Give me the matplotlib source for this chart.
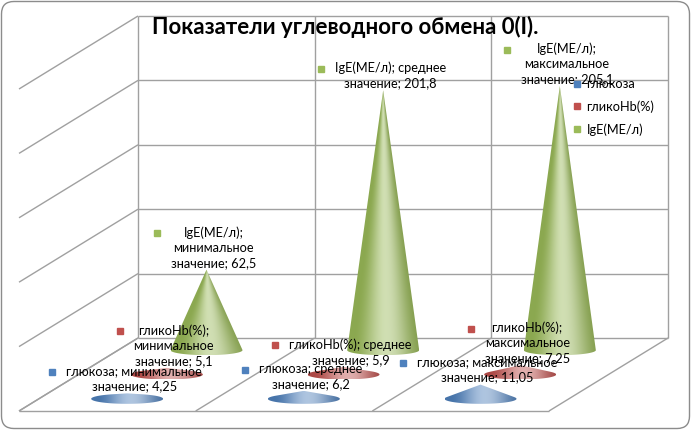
import matplotlib
matplotlib.use("agg")
import matplotlib.pyplot as plt
import matplotlib.transforms as mtransforms
import numpy as np
from matplotlib.colors import to_rgb
from matplotlib.lines import Line2D
from matplotlib.patches import FancyBboxPatch, Polygon

# Chart data
title = "Показатели углеводного обмена 0(I)."
categories = ["минимальное", "среднее", "максимальное"]
category_suffix = "значение"
series_names = ["глюкоза", "гликоHb(%)", "IgE(МЕ/л)"]
glucose = [4.25, 6.2, 11.05]
glyco_hb = [5.1, 5.9, 7.25]
ige = [62.5, 201.8, 205.1]
value_ticks = [0, 50, 100, 150, 200, 250]

series_values = [glucose, glyco_hb, ige]
series_colors = ["#4F81BD", "#C0504D", "#9BBB59"]

# Layout of the 3D box (pixels of a 691x430 picture)
W, H = 691, 430
wall_left, wall_right, wall_top, wall_bottom = 138, 668, 16, 338
depth_px = (-119, 73)          # shift from back wall to front edge
cone_rx_px, cone_ry_px = 36, 5
grid_color = "#a0a0a0"
font = ["Lato", "DejaVu Sans"]
label_size = 9.2

n_cat = len(categories)
vmax = value_ticks[-1]
px_cat = (wall_right - wall_left) / n_cat
px_val = (wall_bottom - wall_top) / vmax
dcat = depth_px[0] / px_cat
dval = -depth_px[1] / px_val
rx = cone_rx_px / px_cat
ry = cone_ry_px / px_val

fig = plt.figure(figsize=(W / 100, H / 100), dpi=100)
ax = fig.add_axes([0, 0, 1, 1])
ax.set_xlim(-wall_left / px_cat, n_cat + (W - wall_right) / px_cat)
ax.set_ylim(-(H - wall_bottom) / px_val, vmax + wall_top / px_val)
ax.set_autoscale_on(False)
ax.axis("off")


def proj(cat, depth, value):
    return cat + dcat * depth, value + dval * depth


def line(p, q):
    ax.plot([p[0], q[0]], [p[1], q[1]], color=grid_color, lw=1, zorder=1,
            solid_capstyle="butt")


# back wall, left wall and floor
for v in value_ticks:
    line((0, v), (n_cat, v))
    line((0, v), proj(0, 1, v))
for c in range(n_cat + 1):
    line((c, 0), (c, vmax))
    line((c, 0), proj(c, 1, 0))
line(proj(0, 1, 0), proj(n_cat, 1, 0))


def hull(points):
    pts = sorted(set(points))

    def cross(o, a, b):
        return (a[0] - o[0]) * (b[1] - o[1]) - (a[1] - o[1]) * (b[0] - o[0])

    lower, upper = [], []
    for p in pts:
        while len(lower) >= 2 and cross(lower[-2], lower[-1], p) <= 0:
            lower.pop()
        lower.append(p)
    for p in reversed(pts):
        while len(upper) >= 2 and cross(upper[-2], upper[-1], p) <= 0:
            upper.pop()
        upper.append(p)
    return lower[:-1] + upper[:-1]


def cone(cx, by, h, color, z):
    theta = np.linspace(0, 2 * np.pi, 160, endpoint=False)
    pts = [(cx + rx * np.cos(a), by + ry * np.sin(a)) for a in theta]
    pts.append((cx, by + h))
    outline = Polygon(hull(pts), closed=True, fc="none", ec="none",
                      transform=ax.transData)
    ax.add_patch(outline)

    top = by + max(h, ry)
    xs = np.linspace(cx - rx, cx + rx, 300)
    ys = np.linspace(by - ry, top, 300)
    X, Y = np.meshgrid(xs, ys)
    if h > 3 * ry:
        w = rx * np.clip((by + h - Y) / h, 1e-3, 1)
    else:
        w = np.full_like(Y, rx)
    u = np.clip((X - cx) / w, -1, 1)
    # light coming a little from the right
    t = np.clip(np.cos((u - 0.15) * np.pi / 2.0), 0, 1) ** 1.8
    base = np.array(to_rgb(color))
    dark = base * 0.9
    light = base + (1 - base) * 0.55
    img = dark + (light - dark) * t[..., None]
    right = np.clip(u, 0, 1)[..., None]
    img = img * (1 - 0.07 * right)
    im = ax.imshow(img, extent=(cx - rx, cx + rx, by - ry, top),
                   aspect="auto", interpolation="bilinear", zorder=z,
                   origin="lower")
    im.set_clip_path(outline)


def fmt(v):
    return f"{v:g}".replace(".", ",")


labels = []
# draw back row first
for j in reversed(range(len(series_names))):
    depth = 1 - (j + 0.5) / len(series_names)
    for i, v in enumerate(series_values[j]):
        cx, by = proj(i + 0.5, depth, 0)
        cone(cx, by, v, series_colors[j], 3 + (2 - j))
        name = series_names[j]
        first = f"{name};"
        if len(name) + len(categories[i]) + 2 <= 21:
            first += " " + categories[i]
            text = first + "\n"
        else:
            text = first + "\n" + categories[i] + "\n"
        text += f"{category_suffix}; {fmt(v)}"
        tr = mtransforms.offset_copy(ax.transData, fig, x=7, y=1, units="dots")
        t = ax.text(cx, by + v, text, transform=tr, ha="center", va="bottom",
                    multialignment="center", fontsize=label_size, family=font,
                    linespacing=1.3, zorder=10)
        labels.append((t, series_colors[j]))

fig.canvas.draw()
renderer = fig.canvas.get_renderer()
inv = ax.transData.inverted()
for t, col in labels:
    bb = t.get_window_extent(renderer)
    n_lines = t.get_text().count("\n") + 1
    lh = bb.height / n_lines
    kx, ky = inv.transform((bb.x0 - 14, bb.y1 - lh * 0.5))
    ax.plot([kx], [ky], marker="s", ms=5, color=col, mec=col, ls="none",
            zorder=11)

handles = [Line2D([], [], marker="s", ms=5, color=c, ls="none")
           for c in series_colors]
leg = fig.legend(handles, series_names, loc="upper left",
                 bbox_to_anchor=(568 / W, 1 - 73 / H), frameon=False,
                 handlelength=0.6, handletextpad=0.45, labelspacing=0.8,
                 prop={"family": font, "size": label_size}, borderaxespad=0)
leg.set_zorder(12)

fig.text(0.5, 1 - 27 / H, title, ha="center", va="center", fontsize=16,
         fontweight="bold", family=font)

border = FancyBboxPatch((1.5 / W, 1.5 / H), (W - 3) / W, (H - 3) / H,
                        boxstyle="round,pad=0,rounding_size=0.018",
                        mutation_aspect=W / H, transform=fig.transFigure,
                        fill=False, ec="#8c8c8c", lw=1)
fig.patches.append(border)

fig.savefig("out.png", dpi=100)
